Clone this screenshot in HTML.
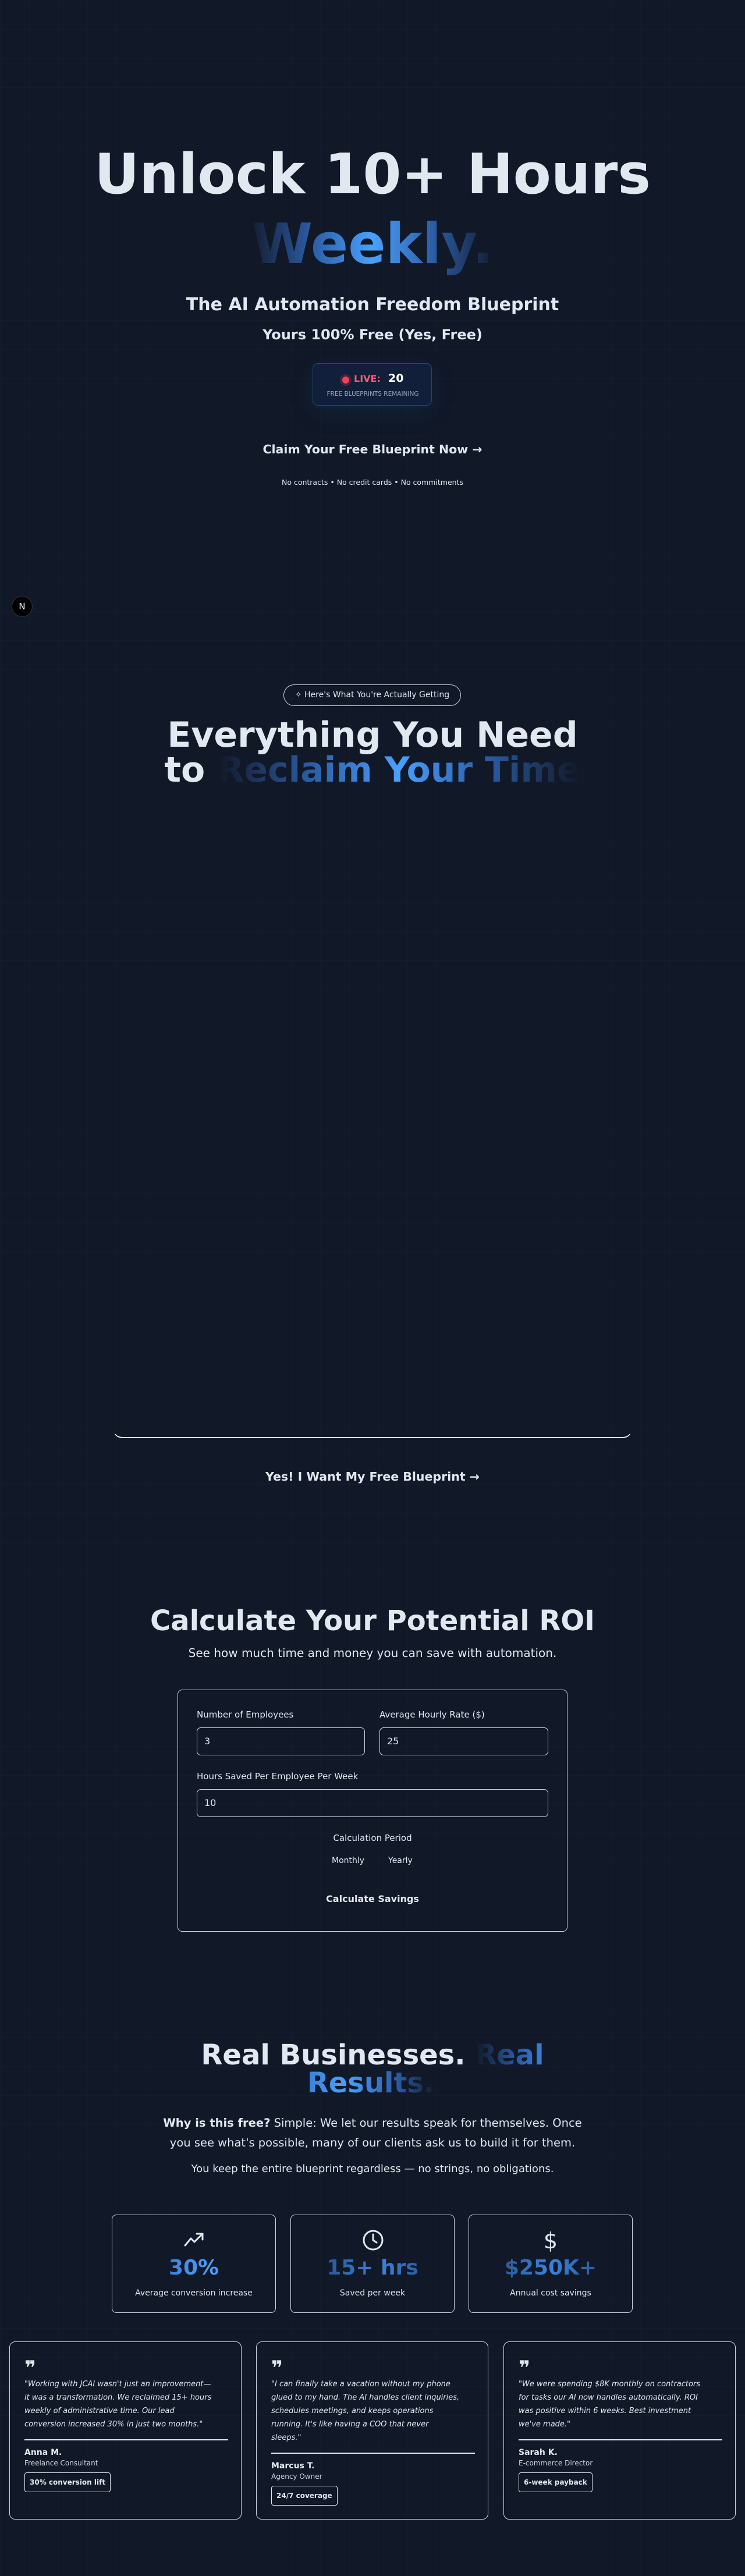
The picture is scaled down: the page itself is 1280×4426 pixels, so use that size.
<!DOCTYPE html>
<html><head><meta charset="utf-8">
<style>
*{margin:0;padding:0;box-sizing:border-box}
html,body{width:1280px;height:4426px;background:#111827;color:#e2e8f0;font-family:"DejaVu Sans","Liberation Sans",sans-serif;overflow:hidden}
body{position:relative;background-color:#111827;background-image:linear-gradient(rgba(255,255,255,0.01) 1px,transparent 1px),linear-gradient(90deg,rgba(255,255,255,0.01) 1px,transparent 1px);background-size:50px 50px}
.a{position:absolute}
.c{position:absolute;left:0;width:1280px;text-align:center;white-space:nowrap}
.grad{background:linear-gradient(90deg,#111827 0%,#2a5aa0 25%,#4aa0ff 50%,#2a5aa0 75%,#111827 100%);-webkit-background-clip:text;background-clip:text;color:transparent}
.box{position:absolute;border:1px solid #cbd5e1;border-radius:8px}
.inp{position:absolute;height:48px;border:1px solid #cbd5e1;border-radius:7px;padding-left:12px;line-height:46px;font-size:16px;color:#e2e8f0}
.lbl{position:absolute;font-size:15px;color:#e2e8f0}
.stat{position:absolute;top:3805px;width:282px;height:169px;border:1px solid #cbd5e1;border-radius:8px;text-align:center}
.stat svg{position:absolute;left:123px;top:28px}
.stat .v{position:absolute;top:70px;width:100%;font-size:36px;font-weight:bold}
.stat .l{position:absolute;top:126px;width:100%;font-size:14px}
.tc{position:absolute;top:4023px;width:399px;height:306px;border:1px solid #cbd5e1;border-radius:10px}
.tc .q{position:absolute;left:25px;top:28px;font-size:34px;font-weight:bold;line-height:1}
.tc .t{position:absolute;left:25px;top:61px;white-space:nowrap;font-size:13px;font-style:italic;line-height:23px;color:#e2e8f0}
.tc .d{position:absolute;left:25px;width:350px;border-top:2px solid #e2e8f0}
.tc .n{position:absolute;left:25px;font-size:14px;font-weight:bold}
.tc .r{position:absolute;left:25px;font-size:12px;color:#cbd5e1}
.tc .b{position:absolute;left:25px;height:34px;border:1px solid #e2e8f0;border-radius:4px;padding:0 8px;line-height:32px;font-size:12px;font-weight:bold}
</style></head><body>

<div class="c" style="top:240px;font-size:95px;font-weight:bold;line-height:120px">Unlock 10+ Hours</div>
<div class="c" style="top:360px;font-size:95px;font-weight:bold;line-height:120px"><span class="grad" style="padding:0 10px">Weekly.</span></div>
<div class="c" style="top:502px;font-size:30px;font-weight:bold;line-height:44px">The AI Automation Freedom Blueprint</div>
<div class="c" style="top:560px;font-size:24px;font-weight:bold;line-height:30px">Yours 100% Free (Yes, Free)</div>

<div class="a" style="left:537px;top:624px;width:205px;height:73px;border:1px solid #1e4a70;border-radius:9px;background:#111f3a;box-shadow:0 10px 40px rgba(20,90,140,0.18)">
  <div class="a" style="left:46px;top:18px;width:20px;height:20px;border-radius:50%;background:rgba(244,63,94,0.2)"></div>
  <div class="a" style="left:50px;top:22px;width:12px;height:12px;border-radius:50%;background:#f43f5e"></div>
  <div class="a" style="left:70px;top:16px;font-size:16px;font-weight:bold;color:#fb5a78">LIVE:</div>
  <div class="a" style="left:129px;top:14px;font-size:19px;font-weight:bold;color:#fff">20</div>
  <div class="a" style="left:0;width:205px;text-align:center;top:46px;font-size:10.5px;color:#94a3b8">FREE BLUEPRINTS REMAINING</div>
</div>

<div class="c" style="top:759px;font-size:20.5px;font-weight:bold;line-height:26px">Claim Your Free Blueprint Now →</div>
<div class="c" style="top:821px;font-size:12.5px;line-height:16px">No contracts • No credit cards • No commitments</div>

<div class="a" style="left:20px;top:1024px;width:36px;height:36px;border-radius:50%;background:#000;border:1px solid #333;color:#fff;text-align:center;line-height:34px;font-size:15px">N</div>

<div class="a" style="left:487px;top:1176px;width:305px;height:37px;border:1px solid #cbd5e1;border-radius:19px;text-align:center;line-height:35px;font-size:14px">✧ Here's What You're Actually Getting</div>
<div class="c" style="top:1233px;font-size:60px;font-weight:bold;line-height:60px">Everything You Need</div>
<div class="c" style="top:1293px;font-size:60px;font-weight:bold;line-height:60px">to <span class="grad">Reclaim Your Time</span></div>

<div class="a" style="left:194px;top:2400px;width:892px;height:71px;border-bottom:2px solid #e2e8f0;border-left:1px solid transparent;border-right:1px solid transparent;border-radius:0 0 16px 16px"></div>
<div class="c" style="top:2524px;font-size:20.5px;font-weight:bold;line-height:26px">Yes! I Want My Free Blueprint →</div>

<div class="c" style="top:2754px;font-size:48px;font-weight:bold;line-height:62px">Calculate Your Potential ROI</div>
<div class="c" style="top:2827px;font-size:20px;line-height:26px">See how much time and money you can save with automation.</div>

<div class="box" style="left:305px;top:2903px;width:670px;height:416px"></div>
<div class="lbl" style="left:338px;top:2937px">Number of Employees</div>
<div class="inp" style="left:338px;top:2968px;width:289px">3</div>
<div class="lbl" style="left:652px;top:2937px">Average Hourly Rate ($)</div>
<div class="inp" style="left:652px;top:2968px;width:290px">25</div>
<div class="lbl" style="left:338px;top:3043px">Hours Saved Per Employee Per Week</div>
<div class="inp" style="left:338px;top:3074px;width:604px">10</div>
<div class="c" style="top:3149px;font-size:15px;line-height:18px">Calculation Period</div>
<div class="a" style="left:570px;top:3189px;font-size:14px">Monthly</div>
<div class="a" style="left:667px;top:3189px;font-size:14px">Yearly</div>
<div class="c" style="top:3253px;font-size:16px;font-weight:bold;line-height:20px">Calculate Savings</div>

<div class="c" style="top:3507px;font-size:48px;font-weight:bold;line-height:48px">Real Businesses. <span style="background:linear-gradient(90deg,#111827 0%,#2a5aa0 60%,#3b82d8 100%);-webkit-background-clip:text;background-clip:text;color:transparent">Real</span></div>
<div class="c" style="top:3555px;font-size:48px;font-weight:bold;line-height:48px"><span style="background:linear-gradient(90deg,#3b82d8 0%,#4aa0ff 30%,#2a5aa0 70%,#111827 100%);-webkit-background-clip:text;background-clip:text;color:transparent;padding-right:6px">Results.</span></div>
<div class="c" style="top:3631px;font-size:19.5px;line-height:34px"><b>Why is this free?</b> Simple: We let our results speak for themselves. Once<br>you see what's possible, many of our clients ask us to build it for them.</div>
<div class="c" style="top:3716px;font-size:18px;line-height:22px">You keep the entire blueprint regardless — no strings, no obligations.</div>

<div class="stat" style="left:192px">
  <svg width="36" height="28" viewBox="0 0 36 28"><polyline points="2,24 12,12 18,18 32,4" fill="none" stroke="#e2e8f0" stroke-width="3" stroke-linecap="round" stroke-linejoin="round"/><polyline points="22,4 32,4 32,14" fill="none" stroke="#e2e8f0" stroke-width="3" stroke-linecap="round" stroke-linejoin="round"/></svg>
  <div class="v" style="background:linear-gradient(90deg,#2a5aa0,#4aa0ff 60%,#2a5aa0);-webkit-background-clip:text;background-clip:text;color:transparent">30%</div>
  <div class="l">Average conversion increase</div>
</div>
<div class="stat" style="left:499px">
  <svg width="36" height="38" viewBox="0 0 36 38" style="top:24px"><circle cx="18" cy="19" r="16" fill="none" stroke="#e2e8f0" stroke-width="3"/><polyline points="18,9 18,19 24,23" fill="none" stroke="#e2e8f0" stroke-width="3" stroke-linecap="round"/></svg>
  <div class="v" style="background:linear-gradient(90deg,#1e3f70,#3b82d8 55%,#1e3f70);-webkit-background-clip:text;background-clip:text;color:transparent">15+ hrs</div>
  <div class="l">Saved per week</div>
</div>
<div class="stat" style="left:805px">
  <div class="a" style="left:0;width:100%;top:22px;font-size:38px;text-align:center">$</div>
  <div class="v" style="background:linear-gradient(90deg,#1e3f70,#3b82d8 50%,#1e3f70);-webkit-background-clip:text;background-clip:text;color:transparent">$250K+</div>
  <div class="l">Annual cost savings</div>
</div>

<div class="tc" style="left:16px">
  <div class="q">❞</div>
  <div class="t">"Working with JCAI wasn't just an improvement—<br>it was a transformation. We reclaimed 15+ hours<br>weekly of administrative time. Our lead<br>conversion increased 30% in just two months."</div>
  <div class="d" style="top:167px"></div>
  <div class="n" style="top:182px">Anna M.</div>
  <div class="r" style="top:201px">Freelance Consultant</div>
  <div class="b" style="top:224px">30% conversion lift</div>
</div>
<div class="tc" style="left:440px">
  <div class="q">❞</div>
  <div class="t">"I can finally take a vacation without my phone<br>glued to my hand. The AI handles client inquiries,<br>schedules meetings, and keeps operations<br>running. It's like having a COO that never<br>sleeps."</div>
  <div class="d" style="top:190px"></div>
  <div class="n" style="top:205px">Marcus T.</div>
  <div class="r" style="top:224px">Agency Owner</div>
  <div class="b" style="top:247px">24/7 coverage</div>
</div>
<div class="tc" style="left:865px">
  <div class="q">❞</div>
  <div class="t">"We were spending $8K monthly on contractors<br>for tasks our AI now handles automatically. ROI<br>was positive within 6 weeks. Best investment<br>we've made."</div>
  <div class="d" style="top:167px"></div>
  <div class="n" style="top:182px">Sarah K.</div>
  <div class="r" style="top:201px">E-commerce Director</div>
  <div class="b" style="top:224px">6-week payback</div>
</div>

</body></html>
